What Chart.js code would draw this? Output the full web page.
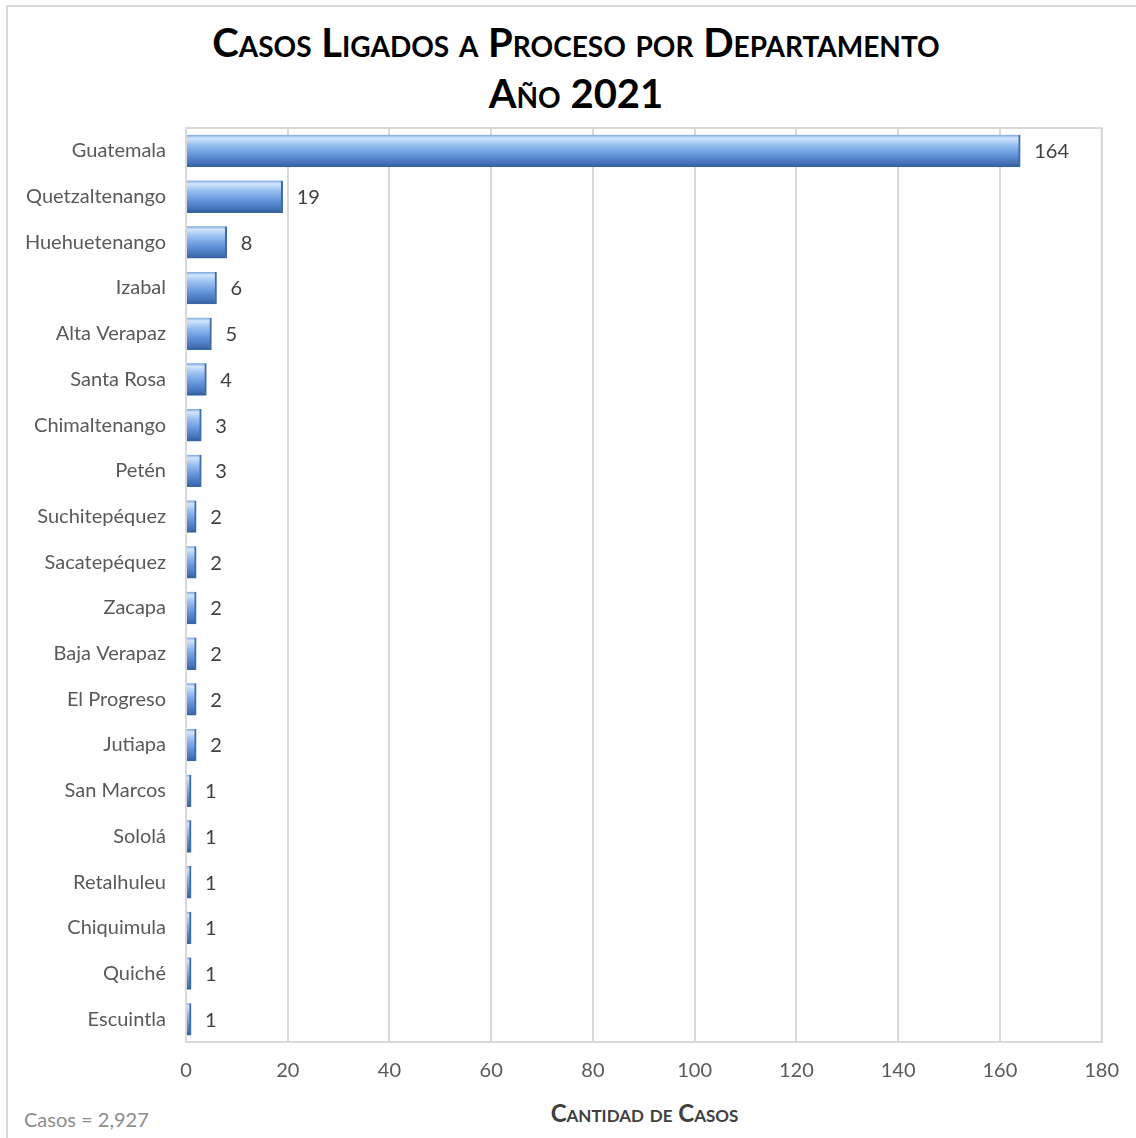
<!DOCTYPE html>
<html>
<head>
<meta charset="utf-8">
<script src="https://cdn.jsdelivr.net/npm/chart.js@4"></script>
<style>
  body { margin: 0; background: #fff; }
  #page { position: relative; width: 1136px; height: 1138px; overflow: hidden; font-family: Lato, "Open Sans", sans-serif; }
  #frame { position: absolute; left: 6px; top: 5px; right: -10px; bottom: -10px; border-left: 2px solid #d9d9d9; border-top: 2px solid #d9d9d9; }
  .title { position: absolute; left: 0; width: 1152px; text-align: center; font-weight: bold; font-variant: small-caps; color: #000; font-size: 40px; line-height: 44px; }
  #t1 { top: 20px; }
  #t2 { top: 71px; }
  #chartBox { position: absolute; left: 0; top: 96px; width: 1136px; height: 994px; }
  #axisTitle { position: absolute; left: 186px; width: 917px; top: 1098px; text-align: center; font-weight: bold; font-variant: small-caps; font-size: 24px; color: #404040; }
  #note { position: absolute; left: 24px; top: 1107px; font-size: 20px; color: #8c8c8c; }
</style>
</head>
<body>
<div id="page">
  <div id="frame"></div>
  <div class="title" id="t1">Casos Ligados a Proceso por Departamento</div>
  <div class="title" id="t2">Año 2021</div>
  <div id="chartBox"><canvas id="chart"></canvas></div>
  <div id="axisTitle">Cantidad de Casos</div>
  <div id="note">Casos = 2,927</div>
</div>
<script>
// =========================
// DONNÉES
// =========================
const departamentos = [
  "Guatemala", "Quetzaltenango", "Huehuetenango", "Izabal", "Alta Verapaz",
  "Santa Rosa", "Chimaltenango", "Petén", "Suchitepéquez", "Sacatepéquez",
  "Zacapa", "Baja Verapaz", "El Progreso", "Jutiapa", "San Marcos",
  "Sololá", "Retalhuleu", "Chiquimula", "Quiché", "Escuintla",
];
const casos = [164, 19, 8, 6, 5, 4, 3, 3, 2, 2, 2, 2, 2, 2, 1, 1, 1, 1, 1, 1];
const xTicks = [0, 20, 40, 60, 80, 100, 120, 140, 160, 180];

const BAR_H = 32;

// dégradé vertical "biseauté" pour chaque barre
function barGradient(context) {
  const chart = context.chart;
  const yScale = chart.scales.y;
  if (!yScale || context.dataIndex === undefined) return "#5b8bd0";
  const yc = yScale.getPixelForValue(context.dataIndex);
  if (!Number.isFinite(yc)) return "#5b8bd0";
  const g = chart.ctx.createLinearGradient(0, yc - BAR_H / 2, 0, yc + BAR_H / 2);
  g.addColorStop(0, "#7aa5e0");
  g.addColorStop(0.1, "#d3e6fd");
  g.addColorStop(0.3, "#9cc2f2");
  g.addColorStop(0.65, "#5f90d8");
  g.addColorStop(0.9, "#4271b5");
  g.addColorStop(1, "#2f5a94");
  return g;
}

// cadre de la zone de tracé
const framePlugin = {
  id: "frame",
  beforeDatasetsDraw(chart) {
    const { ctx, chartArea: a } = chart;
    ctx.save();
    ctx.strokeStyle = "#d9d9d9";
    ctx.lineWidth = 2;
    ctx.strokeRect(a.left, a.top, a.right - a.left, a.bottom - a.top);
    ctx.restore();
  },
};

// étiquettes de valeurs
const labelsPlugin = {
  id: "valueLabels",
  afterDatasetsDraw(chart) {
    const { ctx } = chart;
    const meta = chart.getDatasetMeta(0);
    ctx.save();
    ctx.font = "20px Lato, 'Open Sans', sans-serif";
    ctx.fillStyle = "#404040";
    ctx.textAlign = "left";
    ctx.textBaseline = "middle";
    meta.data.forEach((bar, i) => {
      ctx.fillText(String(casos[i]), bar.x + 14, bar.y + 1);
    });
    ctx.restore();
  },
};

new Chart(document.getElementById("chart"), {
  type: "bar",
  data: {
    labels: departamentos,
    datasets: [{
      label: "Casos",
      data: casos,
      backgroundColor: barGradient,
      borderColor: "#3e6aa8",
      borderWidth: { right: 2, bottom: 1 },
      borderSkipped: "left",
      barThickness: BAR_H,
    }],
  },
  options: {
    indexAxis: "y",
    responsive: true,
    maintainAspectRatio: false,
    animation: false,
    layout: { padding: { top: 8, right: 33, left: 0, bottom: 0 } },
    plugins: { legend: { display: false }, tooltip: { enabled: false } },
    scales: {
      x: {
        min: 0,
        max: 180,
        afterBuildTicks: (scale) => { scale.ticks = xTicks.map((v) => ({ value: v })); },
        grid: { color: "#d9d9d9", lineWidth: 2, drawTicks: false },
        border: { display: false },
        ticks: { padding: 17, color: "#595959", font: { family: "Lato, 'Open Sans', sans-serif", size: 20 } },
        afterFit: (scale) => { scale.height = 48; },
      },
      y: {
        grid: { display: false, drawTicks: false },
        border: { display: false },
        ticks: { padding: 20, color: "#595959", font: { family: "Lato, 'Open Sans', sans-serif", size: 20 } },
        afterFit: (scale) => { scale.width = 186; },
      },
    },
  },
  plugins: [framePlugin, labelsPlugin],
});
</script>
</body>
</html>
